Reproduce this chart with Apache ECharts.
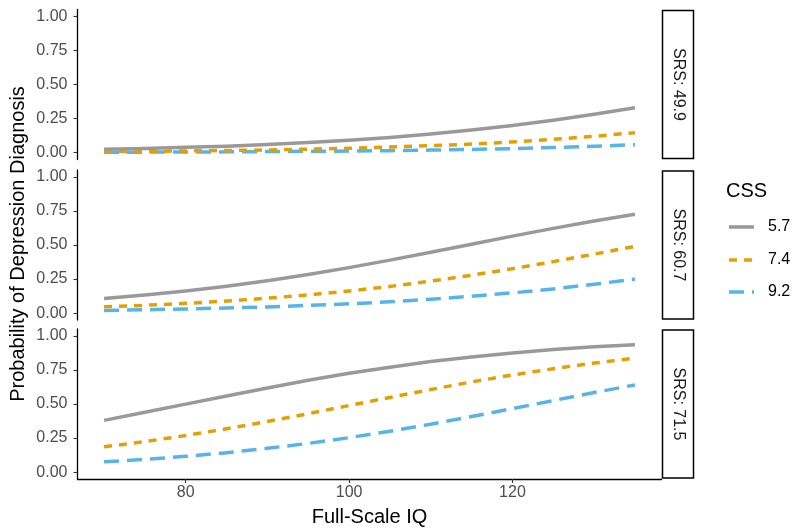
<!DOCTYPE html>
<html><head><meta charset="utf-8">
<script src="https://cdn.jsdelivr.net/npm/echarts@6/dist/echarts.min.js"></script>
<style>html,body{margin:0;padding:0;background:#fff}#c{width:800px;height:530px}</style>
</head><body><div id="c"></div>
<script>
// ---- data ----
const fullScaleIQ = [70,75,80,85,90,95,100,105,110,115,120,125,130,135];
const srsPanels = ['SRS: 49.9','SRS: 60.7','SRS: 71.5'];
const cssLevels = ['5.7','7.4','9.2'];
const yTicks = [0, 0.25, 0.5, 0.75, 1];
const xTicks = [80, 100, 120];

// SRS 49.9
const srs499_css57 = [0.025,0.031,0.039,0.048,0.060,0.074,0.091,0.112,0.137,0.166,0.200,0.238,0.282,0.330];
const srs499_css74 = [0.008,0.010,0.013,0.016,0.020,0.026,0.032,0.041,0.051,0.063,0.079,0.098,0.120,0.147];
const srs499_css92 = [0.003,0.004,0.005,0.006,0.008,0.010,0.012,0.015,0.019,0.024,0.030,0.038,0.047,0.059];
// SRS 60.7
const srs607_css57 = [0.108,0.133,0.163,0.198,0.238,0.284,0.334,0.389,0.447,0.506,0.565,0.622,0.676,0.725];
const srs607_css74 = [0.047,0.058,0.072,0.089,0.110,0.134,0.163,0.196,0.235,0.278,0.326,0.378,0.433,0.490];
const srs607_css92 = [0.020,0.025,0.031,0.038,0.046,0.057,0.069,0.084,0.102,0.124,0.149,0.178,0.212,0.250];
// SRS 71.5
const srs715_css57 = [0.380,0.439,0.499,0.559,0.618,0.674,0.725,0.770,0.811,0.845,0.874,0.899,0.919,0.935];
const srs715_css74 = [0.186,0.224,0.269,0.318,0.372,0.429,0.489,0.548,0.606,0.662,0.713,0.759,0.800,0.836];
const srs715_css92 = [0.076,0.094,0.116,0.143,0.175,0.211,0.253,0.300,0.352,0.408,0.466,0.525,0.584,0.640];

const panelData = [
  [srs499_css57, srs499_css74, srs499_css92],
  [srs607_css57, srs607_css74, srs607_css92],
  [srs715_css57, srs715_css74, srs715_css92]
];

// ---- styling ----
const colors = ['#999999', '#E69F00', '#56B4E9'];
const dashes = ['solid', [8, 7], [15, 8]];
const LW = 3.5;
const FONT = 'Arial, "Liberation Sans", Helvetica, sans-serif';
const SMALL = 16;

const gridLeft = 77.5, gridWidth = 584, gridH = 150;
const gridTops = [9.5, 170, 329];

const grids = gridTops.map(t => ({left: gridLeft, top: t, width: gridWidth, height: gridH, containLabel: false}));

const xAxes = gridTops.map((t, i) => ({
  type: 'value', gridIndex: i, min: 66.75, max: 138.25,
  show: i === 2,
  axisLine: {show: true, onZero: false, lineStyle: {color: '#000', width: 1.3}},
  axisTick: {show: true, length: 4, customValues: xTicks, lineStyle: {color: '#333', width: 1.1}},
  axisLabel: {show: true, customValues: xTicks, color: '#4D4D4D', fontSize: SMALL, fontFamily: FONT, margin: 6},
  splitLine: {show: false}
}));

const yAxes = gridTops.map((t, i) => ({
  type: 'value', gridIndex: i, min: -0.05, max: 1.05,
  axisLine: {show: true, onZero: false, lineStyle: {color: '#000', width: 1.3}},
  axisTick: {show: true, length: 4, customValues: yTicks, lineStyle: {color: '#333', width: 1.1}},
  axisLabel: {show: true, customValues: yTicks, color: '#4D4D4D', fontSize: SMALL, fontFamily: FONT, margin: 10,
    formatter: v => Number(v).toFixed(2)},
  splitLine: {show: false}
}));

const series = [];
panelData.forEach((panel, pi) => {
  panel.forEach((vals, si) => {
    series.push({
      type: 'line', name: cssLevels[si], xAxisIndex: pi, yAxisIndex: pi,
      data: fullScaleIQ.map((x, k) => [x, vals[k]]),
      showSymbol: false, symbol: 'none', smooth: false,
      lineStyle: {color: colors[si], width: LW, type: dashes[si], cap: 'butt', join: 'round'},
      z: 3 - si, silent: true, animation: false
    });
  });
});

const graphics = [];
// strips
gridTops.forEach((t, i) => {
  graphics.push({type: 'rect', shape: {x: 662.5, y: t + 1, width: 31, height: gridH - 2},
    style: {fill: '#fff', stroke: '#000', lineWidth: 1.5}});
  graphics.push({type: 'text', x: 678, y: t + gridH / 2, rotation: -Math.PI / 2,
    style: {text: srsPanels[i], fill: '#1A1A1A', font: SMALL + 'px ' + FONT, align: 'center', verticalAlign: 'middle'}});
});
// axis titles
graphics.push({type: 'text', x: 18, y: 244, rotation: Math.PI / 2,
  style: {text: 'Probability of Depression Diagnosis', fill: '#000', font: '20px ' + FONT, align: 'center', verticalAlign: 'middle'}});
graphics.push({type: 'text', x: 369.5, y: 517,
  style: {text: 'Full-Scale IQ', fill: '#000', font: '20px ' + FONT, align: 'center', verticalAlign: 'middle'}});
// legend
graphics.push({type: 'text', x: 726, y: 191,
  style: {text: 'CSS', fill: '#000', font: '20px ' + FONT, align: 'left', verticalAlign: 'middle'}});
const legY = [227, 260, 292];
cssLevels.forEach((lab, i) => {
  graphics.push({type: 'line', shape: {x1: 729, y1: legY[i], x2: 754, y2: legY[i]},
    style: {stroke: colors[i], lineWidth: LW, lineDash: dashes[i] === 'solid' ? null : dashes[i]}});
  graphics.push({type: 'text', x: 768, y: legY[i],
    style: {text: lab, fill: '#000', font: SMALL + 'px ' + FONT, align: 'left', verticalAlign: 'middle'}});
});

const chart = echarts.init(document.getElementById('c'), null, {renderer: 'canvas'});
chart.setOption({
  animation: false,
  backgroundColor: '#fff',
  grid: grids, xAxis: xAxes, yAxis: yAxes, series: series,
  graphic: {elements: graphics}
});
</script>
</body></html>
